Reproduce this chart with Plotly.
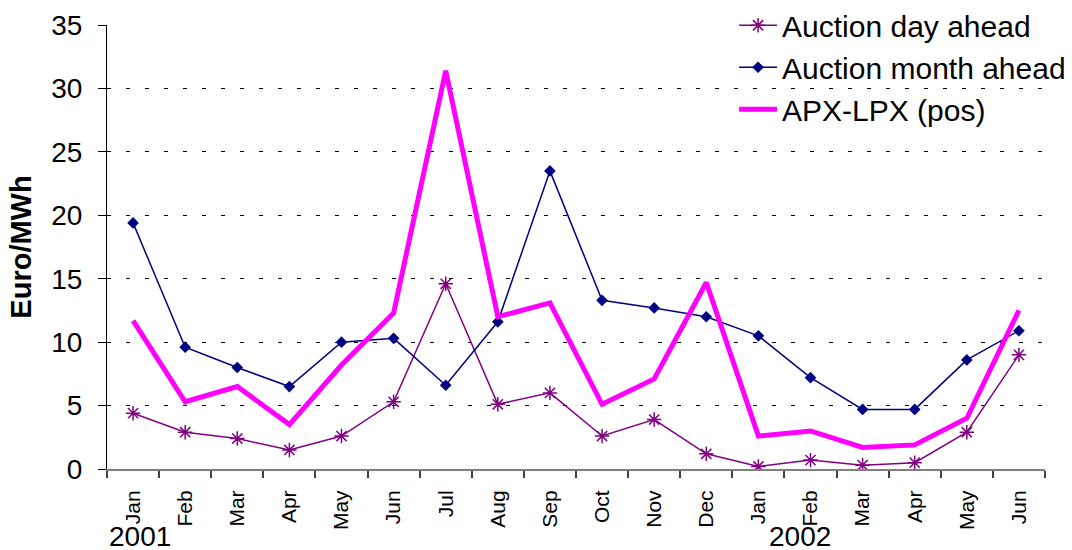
import plotly.graph_objects as go

months = ["Jan", "Feb", "Mar", "Apr", "May", "Jun", "Jul", "Aug", "Sep", "Oct", "Nov", "Dec",
          "Jan", "Feb", "Mar", "Apr", "May", "Jun"]
years = ["2001", "2002"]
year_start_index = [0, 12]

day_ahead = [4.4, 2.9, 2.4, 1.5, 2.6, 5.3, 14.6, 5.1, 6.0, 2.6, 3.9, 1.2,
             0.2, 0.7, 0.3, 0.5, 2.9, 9.0]
month_ahead = [19.4, 9.6, 8.0, 6.5, 10.0, 10.3, 6.6, 11.6, 23.5, 13.3, 12.7, 12.0,
               10.5, 7.2, 4.7, 4.7, 8.6, 10.9]
apx_lpx = [11.7, 5.3, 6.5, 3.5, 8.2, 12.3, 31.4, 12.0, 13.1, 5.1, 7.1, 14.7,
           2.6, 3.0, 1.7, 1.9, 4.0, 12.5]

x = list(range(len(months)))

fig = go.Figure()
fig.add_trace(go.Scatter(
    x=x, y=day_ahead, name="Auction day ahead", mode="lines+markers",
    line=dict(color="#800080", width=1.5),
    marker=dict(symbol="asterisk", size=12, color="#800080",
                line=dict(color="#800080", width=1.5)),
))
fig.add_trace(go.Scatter(
    x=x, y=month_ahead, name="Auction month ahead", mode="lines+markers",
    line=dict(color="#000080", width=1.5),
    marker=dict(symbol="diamond", size=9, color="#000080"),
))
fig.add_trace(go.Scatter(
    x=x, y=apx_lpx, name="APX-LPX (pos)", mode="lines",
    line=dict(color="#FF00FF", width=5),
))

year_left_offset = [-0.49, 12.18 - 12]
for yr, idx, off in zip(years, year_start_index, year_left_offset):
    fig.add_annotation(
        x=idx + off, xref="x", xanchor="left",
        y=-0.151, yref="paper", yanchor="middle",
        text=yr, showarrow=False, borderpad=0,
        font=dict(family="Liberation Sans, Arial", size=28, color="black"),
    )

fig.update_layout(
    width=1072, height=550,
    margin=dict(l=107, r=27, t=25, b=81, autoexpand=False),
    paper_bgcolor="white", plot_bgcolor="white",
    font=dict(family="Liberation Sans, Arial", color="black"),
    showlegend=True,
    legend=dict(
        x=0.6685, y=1.058, xanchor="left", yanchor="top",
        font=dict(size=30, color="black"),
        bgcolor="rgba(0,0,0,0)",
        itemwidth=38,
        tracegroupgap=0,
    ),
    xaxis=dict(
        range=[-0.5, 17.5],
        tickmode="array", tickvals=x, ticktext=months,
        tickangle=-90,
        tickfont=dict(size=21, color="black"),
        ticks="outside", ticklen=11, tickcolor="rgba(0,0,0,0)",
        showline=True, linecolor="#808080", linewidth=2,
        showgrid=False, zeroline=False,
        minor=dict(tickmode="array", tickvals=[i - 0.5 for i in range(len(months) + 1)],
                   ticks="outside", ticklen=7, tickcolor="#404040", tickwidth=1.5,
                   showgrid=False),
    ),
    yaxis=dict(
        range=[0, 35], tickmode="linear", tick0=0, dtick=5,
        tickfont=dict(size=28, color="black"),
        ticks="outside", ticklen=8, tickcolor="black", tickwidth=1,
        ticklabelstandoff=10,
        showline=True, linecolor="black", linewidth=1,
        showgrid=True, gridcolor="black", gridwidth=1, griddash="4px,15px",
        zeroline=False,
        title=dict(text="<b>Euro/MWh</b>", font=dict(size=29, color="black"), standoff=11),
    ),
)

fig.write_html("out.html", config={"displayModeBar": False},
               post_script="document.body.style.margin='0';")
